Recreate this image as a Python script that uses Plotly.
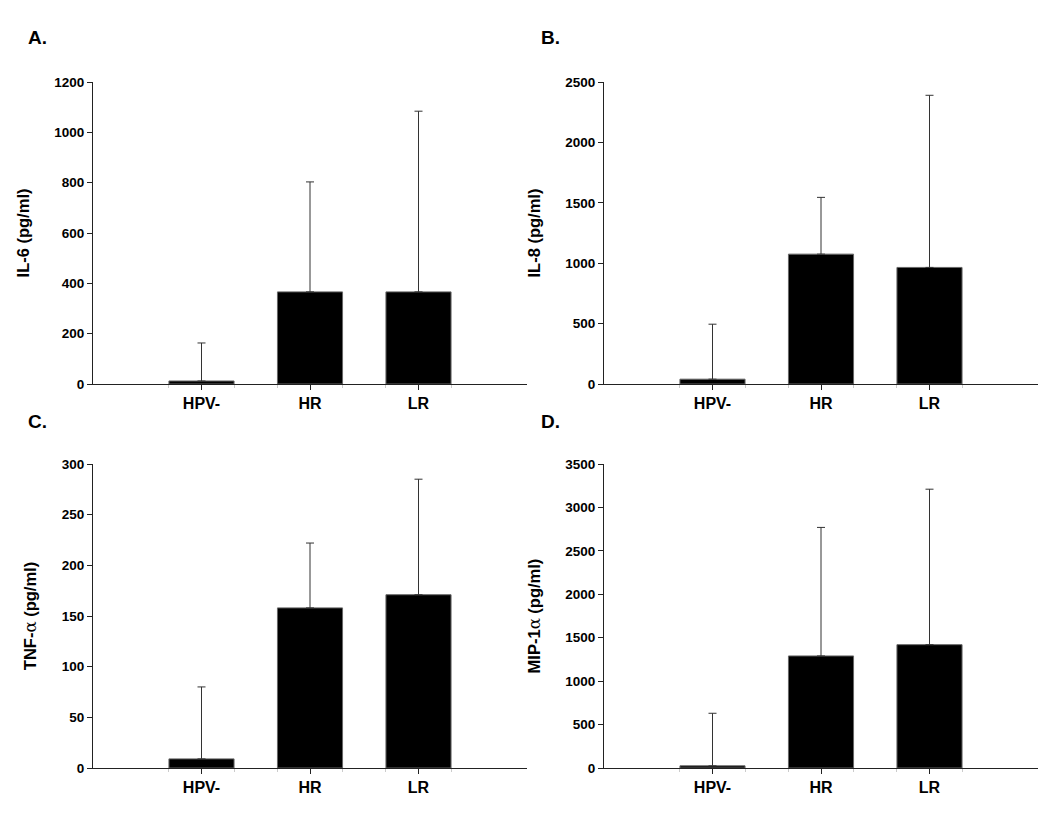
import plotly.graph_objects as go

W, H = 1050, 819
OFF = 8  # page body margin offset

groups = ["HPV-", "HR", "LR"]

il6_mean = [12, 366, 366]
il6_sd = [151, 437, 718]

il8_mean = [40, 1075, 965]
il8_sd = [455, 470, 1425]

tnf_mean = [9, 158, 171]
tnf_sd = [71, 64, 114]

mip_mean = [25, 1290, 1420]
mip_sd = [605, 1480, 1790]

ALPHA = "<span style='font-family:DejaVu Serif;font-weight:normal'>α</span>"

panels = [
    # (letter, title, means, sds, ymax, dtick)
    ("A.", "IL-6 (pg/ml)", il6_mean, il6_sd, 1200, 200),
    ("B.", "IL-8 (pg/ml)", il8_mean, il8_sd, 2500, 500),
    ("C.", f"TNF-{ALPHA} (pg/ml)", tnf_mean, tnf_sd, 300, 50),
    ("D.", f"MIP-1{ALPHA} (pg/ml)", mip_mean, mip_sd, 3500, 500),
]

# pixel boxes of the four plot areas in the page (left, right, top, bottom)
boxes = [
    (93, 527, 82, 384),
    (604, 1038, 82, 384),
    (93, 527, 464, 768),
    (604, 1038, 464, 768),
]
letter_pos = [(37, 38), (550, 38), (37, 421), (550, 421)]

FONT = "Liberation Sans, Arial, sans-serif"
AX = "#222222"

fig = go.Figure()
layout = dict(
    width=W,
    height=H,
    margin=dict(l=0, r=0, t=0, b=0, autoexpand=False),
    paper_bgcolor="white",
    plot_bgcolor="white",
    showlegend=False,
    font=dict(family=FONT, color="black"),
    annotations=[],
)


def px_x(v):
    return (v - OFF) / W


def px_y(v):
    return 1 - (v - OFF) / H


for i, (letter, title, means, sds, ymax, dtick) in enumerate(panels):
    n = i + 1
    xa = "x" if n == 1 else f"x{n}"
    ya = "y" if n == 1 else f"y{n}"
    fig.add_trace(
        go.Bar(
            x=[0, 1, 2],
            y=means,
            width=0.6,
            marker=dict(color="black", line=dict(color="#666666", width=1)),
            error_y=dict(
                type="data",
                array=sds,
                arrayminus=[0, 0, 0],
                symmetric=False,
                color="#333333",
                thickness=1,
                width=4,
            ),
            xaxis=xa,
            yaxis=ya,
        )
    )
    l, r, t, b = boxes[i]
    xkey = "xaxis" if n == 1 else f"xaxis{n}"
    ykey = "yaxis" if n == 1 else f"yaxis{n}"
    layout[xkey] = dict(
        domain=[px_x(l), px_x(r)],
        anchor=ya,
        range=[-1, 3],
        tickmode="array",
        tickvals=[0, 1, 2],
        ticktext=groups,
        ticks="outside",
        ticklen=5,
        tickcolor=AX,
        showline=True,
        linecolor=AX,
        linewidth=1,
        showgrid=False,
        zeroline=False,
        automargin=False,
        tickfont=dict(size=16, family=FONT, weight="bold"),
        minor=dict(
            tickmode="array",
            tickvals=[-0.3, 0.3, 0.7, 1.3, 1.7, 2.3],
            ticks="outside",
            ticklen=3,
            tickcolor="#cccccc",
        ),
        fixedrange=True,
    )
    layout[ykey] = dict(
        domain=[px_y(b), px_y(t)],
        anchor=xa,
        range=[0, ymax],
        dtick=dtick,
        ticks="outside",
        ticklen=5,
        tickcolor=AX,
        showline=True,
        linecolor=AX,
        linewidth=1,
        showgrid=False,
        zeroline=False,
        automargin=False,
        tickfont=dict(size=13.5, family=FONT, weight="bold"),
        title=dict(text=title, font=dict(size=16.5, family=FONT, weight="bold"), standoff=20),
        fixedrange=True,
    )
    lx, ly = letter_pos[i]
    layout["annotations"].append(
        dict(
            text=f"<b>{letter}</b>",
            x=px_x(lx),
            y=px_y(ly),
            xref="paper",
            yref="paper",
            xanchor="center",
            yanchor="middle",
            showarrow=False,
            font=dict(size=19, family=FONT),
        )
    )

fig.update_layout(**layout)
fig.write_html("out.html")
